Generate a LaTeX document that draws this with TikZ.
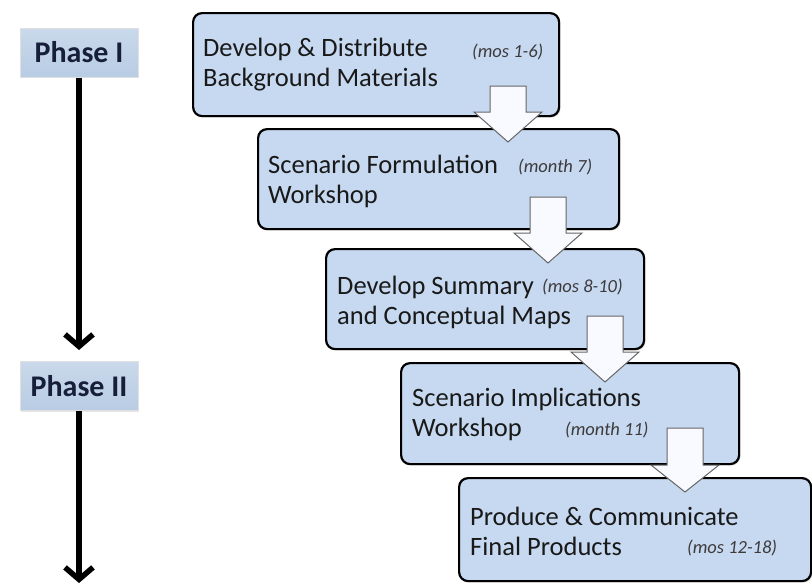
\documentclass[tikz,border=0pt]{standalone}
\usepackage{fontspec}
\setmainfont{Carlito}
\usetikzlibrary{shadows,calc,arrows.meta}

\definecolor{stepfill}{RGB}{198,217,240}
\definecolor{phasefill}{RGB}{184,204,228}
\definecolor{phaseink}{RGB}{22,30,58}
\definecolor{noteink}{RGB}{62,58,60}
\definecolor{flowfill}{RGB}{249,250,255}

\tikzset{
  stepbox/.style={draw=black, line width=2.2pt, rounded corners=9pt, fill=stepfill,
    drop shadow={shadow xshift=1.5pt, shadow yshift=-1.5pt, opacity=0.25}},
  steptext/.style={anchor=west, align=left, inner sep=0pt, text=black!90,
    font=\fontsize{26.5}{30}\selectfont},
  note/.style={anchor=west, inner sep=0pt, text=noteink,
    font=\fontsize{18.5}{20}\selectfont\itshape},
  phasebox/.style={draw=black!12, line width=1pt, top color=phasefill!75!white,
    bottom color=phasefill, text=phaseink, font=\fontsize{30}{32}\selectfont\bfseries,
    minimum width=118pt, minimum height=49pt,
    drop shadow={shadow xshift=1pt, shadow yshift=-1pt, opacity=0.2}},
  flow/.style={draw=black!60, fill=flowfill, line width=1pt},
  timeline/.style={line width=5.5pt, -{Straight Barb[length=12pt,width=28pt]}}
}

\begin{document}
\begin{tikzpicture}[x=1pt, y=-1pt]
  \useasboundingbox (0,0) rectangle (812,584);

  % the five steps
  \foreach \n/\l/\t/\r/\b in {1/192/12/558/115, 2/257/128/618/228,
      3/325/248/643/348, 4/400/362/738/463, 5/458/477/810/580}
    \node[stepbox, anchor=north west, minimum width={(\r-\l)*1pt},
      minimum height={(\b-\t)*1pt}] (s\n) at (\l,\t) {};

  \node[steptext] (t1) at ($(s1.west)+(11,0)$) {Develop \& Distribute\\Background Materials};
  \node[steptext] (t2) at ($(s2.west)+(11,2)$) {Scenario Formulation\\Workshop};
  \node[steptext] (t3) at ($(s3.west)+(12,3)$) {Develop Summary\\and Conceptual Maps};
  \node[steptext] (t4) at ($(s4.west)+(12,1)$) {Scenario Implications\\Workshop};
  \node[steptext] (t5) at ($(s5.west)+(12,2)$) {Produce \& Communicate\\Final Products};

  \node[note] (m1) at (472,52) {(mos 1-6)};
  \node[note] (m2) at (518,167) {(month 7)};
  \node[note] (m3) at (542,287) {(mos 8-10)};
  \node[note] (m4) at (565,430) {(month 11)};
  \node[note] (m5) at (687,548) {(mos 12-18)};

  % block arrows between steps
  \foreach \i/\x/\top/\base/\tip in {1/508/86/112/142, 2/548/197/233/263,
      3/605/316/352/382, 4/685/428/465/492} {
    \coordinate (a\i) at (\x,\top);
    \coordinate (h\i) at (\x,\tip);
    \draw[flow] ($(a\i)+(-18,0)$) -- ($(a\i)+(18,0)$) -- (\x+18,\base)
      -- (\x+34,\base) -- (h\i) -- (\x-34,\base) -- (\x-18,\base) -- cycle;
  }

  % phases
  \node[phasebox] (p1) at (79,52.5) {Phase I};
  \node[phasebox] (p2) at (79,386) {Phase II};
  \coordinate (end) at (79,583);

  \draw[timeline] (p1) -- ($(p2.north)+(0,-11)$);
  \draw[timeline] (p2) -- (end);
\end{tikzpicture}
\end{document}
